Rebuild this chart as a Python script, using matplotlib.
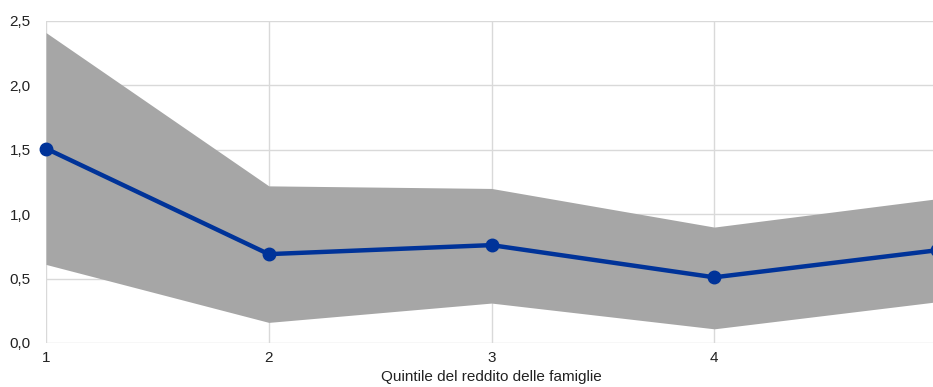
import matplotlib
matplotlib.use("Agg")
import matplotlib.pyplot as plt
from matplotlib.ticker import FuncFormatter

plt.rcParams['font.family'] = ['Liberation Sans', 'DejaVu Sans']

# Dati
quintili = [1, 2, 3, 4, 5]
media = [1.51, 0.69, 0.76, 0.51, 0.72]
limite_sup = [2.41, 1.22, 1.20, 0.90, 1.12]
limite_inf = [0.61, 0.16, 0.31, 0.11, 0.32]


def virgola(v, pos):
    return f"{v:.1f}".replace(".", ",")


def main():
    W, H = 933, 387
    fig = plt.figure(figsize=(W / 100, H / 100), dpi=100)
    left, right = 46 / W, 937 / W
    bottom, top = (H - 343) / H, (H - 21) / H
    ax = fig.add_axes([left, bottom, right - left, top - bottom])

    ax.fill_between(quintili, limite_inf, limite_sup, color="#a6a6a6",
                    linewidth=0, zorder=2)
    ax.plot(quintili, media, color="#003399", linewidth=3.2, marker="o",
            markersize=9, zorder=3, clip_on=False)

    ax.set_xlim(1, 5)
    ax.set_ylim(0, 2.5)
    ax.set_xticks([1, 2, 3, 4])
    ax.set_yticks([0, 0.5, 1.0, 1.5, 2.0, 2.5])
    ax.yaxis.set_major_formatter(FuncFormatter(virgola))
    ax.grid(True, color="#d9d9d9", linewidth=1, zorder=0)
    ax.set_axisbelow(True)
    for s in ax.spines.values():
        s.set_visible(False)
    ax.tick_params(length=0, labelsize=11, colors="#222222", pad=6)
    ax.tick_params(axis="y", pad=11)
    ax.set_xlabel("Quintile del reddito delle famiglie", fontsize=11,
                  color="#222222", labelpad=3)

    fig.savefig("out.png", dpi=100)


main()
